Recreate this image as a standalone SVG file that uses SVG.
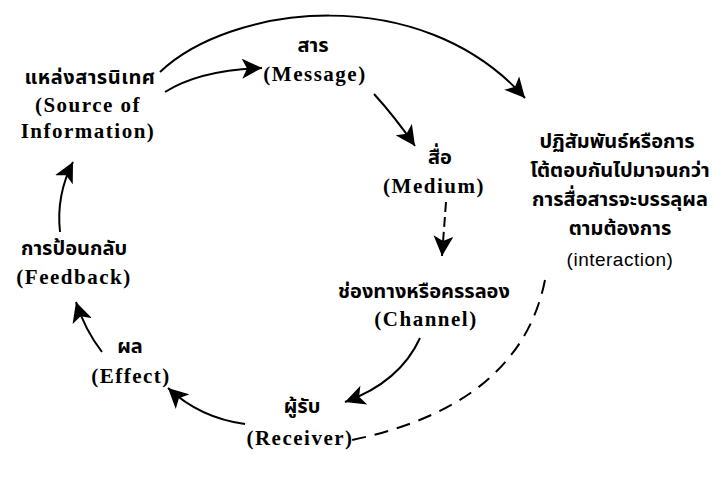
<svg xmlns="http://www.w3.org/2000/svg" width="713" height="477" viewBox="0 0 713 477">
<style>
.th{font-family:"Noto Sans Thai","Noto Sans","DejaVu Sans",sans-serif;font-weight:bold;font-size:20px;fill:#000;text-anchor:middle}
.en{font-family:"Liberation Serif",serif;font-weight:bold;font-size:21px;fill:#000;text-anchor:middle;letter-spacing:1.5px}
.it{font-family:"Liberation Sans",sans-serif;font-size:19px;fill:#000;text-anchor:middle;letter-spacing:0.5px}
.ln{fill:none;stroke:#000;stroke-width:2}
.dash{stroke-dasharray:14 9}
</style>
<defs>
<marker id="ah" markerUnits="userSpaceOnUse" markerWidth="22" markerHeight="20" refX="20" refY="10" orient="auto">
<path d="M0,0 L20,10 L0,20 L5,10 Z" fill="#000"/>
</marker>
</defs>
<rect width="713" height="477" fill="#fff"/>
<g id="connectors">
<path class="ln" d="M160 72 C230 5 420 -20 525 98" marker-end="url(#ah)"/>
<path class="ln" d="M165 92 Q200 70 262 68" marker-end="url(#ah)"/>
<path class="ln" d="M374 94 Q395 117 415 146" marker-end="url(#ah)"/>
<path class="ln" d="M446 202 L442 256" style="stroke-dasharray:10 5" marker-end="url(#ah)"/>
<path class="ln" d="M420 338 Q400 382 345 402" marker-end="url(#ah)"/>
<path class="ln" d="M245 424 Q200 418 168 388" marker-end="url(#ah)"/>
<path class="ln" d="M102 352 Q85 330 76 302" marker-end="url(#ah)"/>
<path class="ln" d="M60 232 Q56 195 73 162" marker-end="url(#ah)"/>
<path class="ln dash" d="M545 280 Q520 405 352 440"/>
</g>
<g id="source">
<text class="th" x="90" y="84" style="letter-spacing:0.5px">แหล่งสารนิเทศ</text>
<text class="en" x="88" y="112">(Source of</text>
<text class="en" x="88" y="138">Information)</text>
</g>
<g id="message">
<text class="th" x="313" y="52">สาร</text>
<text class="en" x="315" y="81">(Message)</text>
</g>
<g id="medium">
<text class="th" x="440" y="164">สื่อ</text>
<text class="en" x="434" y="193">(Medium)</text>
</g>
<g id="channel">
<text class="th" x="424" y="298">ช่องทางหรือครรลอง</text>
<text class="en" x="426" y="326">(Channel)</text>
</g>
<g id="receiver">
<text class="th" x="302" y="413">ผู้รับ</text>
<text class="en" x="300" y="445">(Receiver)</text>
</g>
<g id="effect">
<text class="th" x="130" y="353">ผล</text>
<text class="en" x="131" y="383">(Effect)</text>
</g>
<g id="feedback">
<text class="th" x="74" y="255">การป้อนกลับ</text>
<text class="en" x="74" y="284">(Feedback)</text>
</g>
<g id="interaction">
<text class="th" x="617" y="148">ปฏิสัมพันธ์หรือการ</text>
<text class="th" x="620" y="177">โต้ตอบกันไปมาจนกว่า</text>
<text class="th" x="620" y="206">การสื่อสารจะบรรลุผล</text>
<text class="th" x="620" y="235">ตามต้องการ</text>
<text class="it" x="620" y="266">(interaction)</text>
</g>
</svg>
